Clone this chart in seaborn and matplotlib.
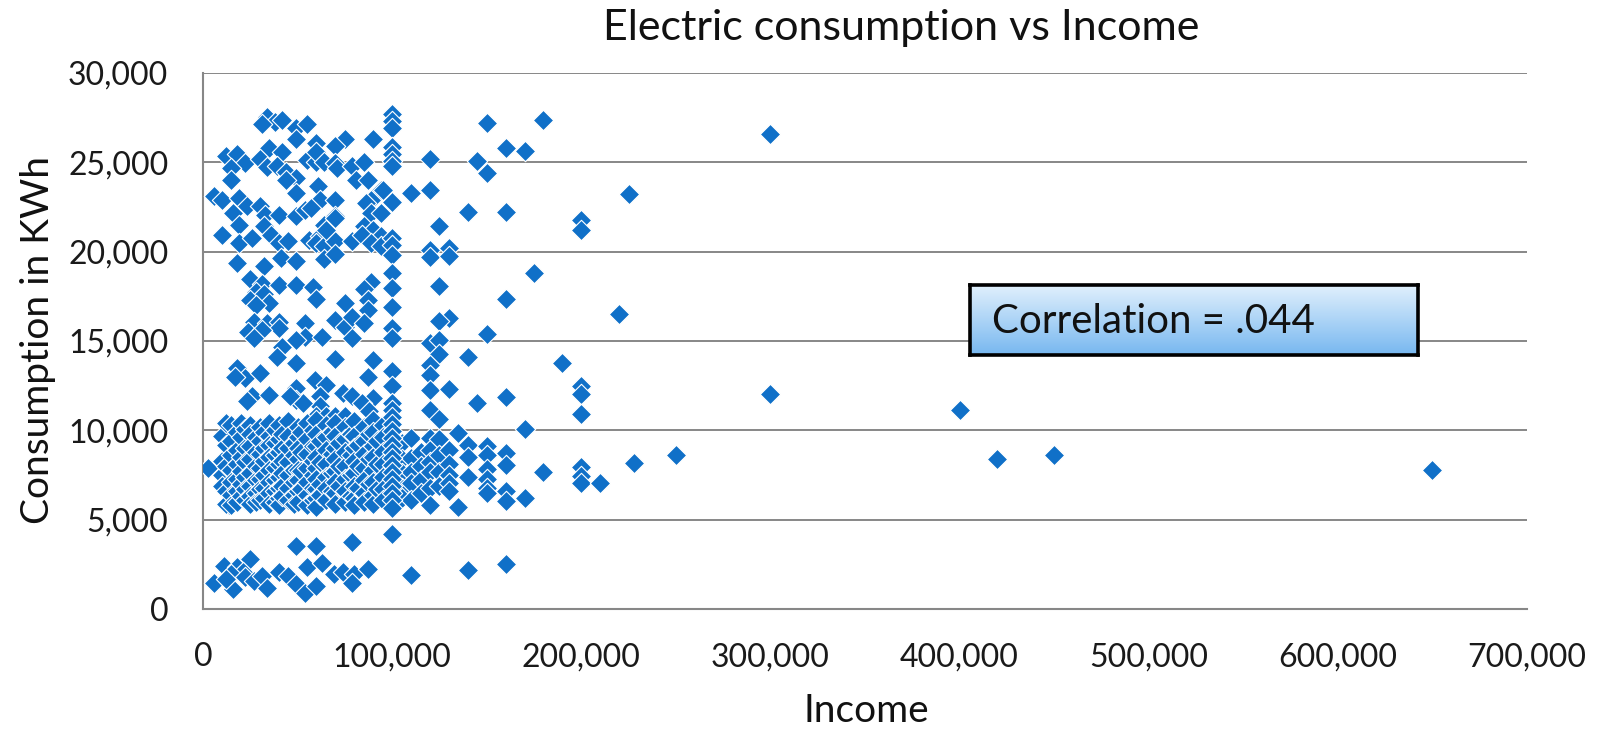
import matplotlib
matplotlib.use("Agg")
import matplotlib.pyplot as plt
import matplotlib.ticker as mticker
import numpy as np
import pandas as pd
import seaborn as sns

# ---------------- data (income in $, consumption in KWh) ----------------
# households above ~10,500 KWh with income below 100,000
upper_income = [34000, 38000, 42000, 31000, 49000, 55000, 49000, 90000, 75000, 60000,
                70000, 35000, 42000, 12000, 18000, 22000, 15000, 15000, 30000, 34000,
                39000, 44000, 49000, 55000, 60000, 60000, 64000, 70000, 71000, 79000,
                85000, 81000, 87000, 94000, 89000, 86000, 61000, 62000, 70000, 49000,
                44000, 6000, 10000, 19000, 23000, 16000, 19000, 30000, 33000, 40000,
                10000, 19000, 26000, 32000, 36000, 40000, 45000, 49000, 54000, 57000,
                56000, 62000, 60000, 64000, 70000, 70000, 64000, 65000, 70000, 89000,
                85000, 90000, 94000, 94000, 79000, 84000, 89000, 94000, 18000, 32000,
                41000, 49000, 64000, 70000,
                25000, 31000, 40000, 49000, 58000, 60000, 89000, 85000, 87000, 87000,
                28000, 32000, 35000, 25000, 28000, 75000, 27000, 34000, 40000, 40000,
                24000, 31000, 27000, 54000, 54000, 49000, 63000, 70000, 75000, 79000,
                85000, 79000, 42000, 39000, 49000, 70000, 90000, 18000, 22000, 30000,
                17000, 87000, 26000, 23000, 35000, 49000, 59000, 65000, 49000, 74000,
                79000, 90000, 84000, 62000, 62000, 53000, 46000,
                12000, 21000, 30000, 34000, 46000, 49000, 60000, 65000, 70000, 75000,
                79000, 88000, 90000]
upper_kwh = [27540, 27260, 27350, 27170, 26900, 27170, 26330, 26330, 26280, 26060,
             25900, 25780, 25590, 25350, 25460, 24980, 24670, 24020, 25170, 24760,
             24800, 24480, 24110, 25130, 25040, 25590, 25040, 24940, 24670, 24800,
             25040, 24020, 24020, 23460, 22900, 22720, 23650, 22900, 22900, 23280,
             24020, 23100, 22900, 23000, 22540, 22170, 21520, 22540, 22070, 22070,
             20960, 20500, 20780, 21430, 20960, 20500, 20590, 21980, 22350, 22440,
             20680, 20870, 20500, 20310, 20590, 21980, 21520, 21240, 21890, 22170,
             21430, 21240, 22170, 20870, 20590, 20960, 20500, 20310, 19390, 19200,
             19670, 19480, 19570, 19850,
             18480, 18200, 18110, 18110, 18020, 17370, 18300, 17930, 17280, 16720,
             17740, 17650, 17130, 17280, 17000, 17130, 16070, 15980, 16070, 15700,
             15520, 15610, 15150, 15980, 15240, 15060, 15240, 16170, 15800, 16350,
             15980, 15150, 14690, 14130, 13760, 13980, 13940, 13480, 12930, 13200,
             12980, 13000, 11910, 11630, 12000, 12370, 12830, 12560, 11720, 12090,
             11910, 11810, 11540, 11910, 11350, 11540, 11910,
             10430, 10340, 10150, 10060, 10240, 10060, 10800, 10800, 10800, 10800,
             10430, 11070, 10340]

# dense band between roughly 5,700 and 10,600 KWh
band_income = ([2500, 14000]
               + [10000] * 4 + [12000] * 5 + [15000] * 7 + [18000] * 6 + [20000] * 6
               + [22000] * 6 + [25000] * 8 + [28000] * 6 + [30000] * 7 + [32000] * 6
               + [35000] * 8 + [38000] * 7 + [40000] * 8 + [42000] * 6 + [45000] * 7
               + [48000] * 6 + [50000] * 8 + [52000] * 4 + [55000] * 7 + [58000] * 6
               + [60000] * 9 + [62000] * 4 + [65000] * 7 + [68000] * 4 + [70000] * 8
               + [72000] * 3 + [75000] * 7 + [78000] * 4 + [80000] * 8 + [82000] * 3
               + [85000] * 7 + [88000] * 3 + [90000] * 8 + [92000] * 3 + [95000] * 7
               + [105000] * 5 + [110000] * 5 + [115000] * 4 + [120000] * 6
               + [125000] * 4 + [130000] * 5 + [135000] * 2 + [140000] * 3
               + [150000] * 6 + [160000] * 4 + [170000] * 2 + [180000])
band_kwh = [7880, 5810,
            9700, 8300, 7500, 6900,
            10400, 9200, 8000, 6600, 5900,
            10300, 9400, 8600, 7800, 7100, 6400, 5800,
            9900, 8900, 8100, 7300, 6600, 6000,
            10400, 9600, 8500, 7700, 7000, 6300,
            10100, 9000, 8200, 7400, 6700, 6100,
            10300, 9800, 9100, 8400, 7600, 6900, 6300, 5900,
            9600, 8800, 8000, 7200, 6500, 6000,
            10200, 9400, 8700, 7900, 7300, 6700, 6100,
            9900, 9000, 8300, 7500, 6800, 6200,
            10400, 9700, 9200, 8500, 7800, 7100, 6500, 5900,
            10000, 9300, 8600, 7900, 7200, 6600, 6000,
            10300, 9500, 8800, 8100, 7400, 6800, 6200, 5800,
            9800, 9000, 8300, 7600, 6900, 6300,
            10500, 9700, 9000, 8200, 7500, 6800, 6100,
            9300, 8600, 7800, 7100, 6400, 5900,
            10200, 9600, 9000, 8400, 7800, 7200, 6600, 6000,
            9900, 8800, 7700, 6700,
            10400, 9500, 8700, 7900, 7100, 6400, 5800,
            10000, 9100, 8300, 7500, 6800, 6100,
            10600, 9800, 9100, 8500, 7900, 7300, 6700, 6200, 5700,
            9400, 8200, 7000, 6400,
            10300, 9600, 8900, 8100, 7400, 6800, 6100,
            9900, 8700, 7600, 6600,
            10400, 9700, 9000, 8400, 7700, 7100, 6500, 5900,
            9300, 8000, 6900,
            10200, 9500, 8800, 8000, 7300, 6600, 6000,
            9800, 8600, 7500, 6300,
            10500, 9700, 9000, 8300, 7600, 6900, 6200, 5800,
            9200, 8000, 6800,
            10200, 9400, 8700, 7900, 7200, 6500, 6000,
            9800, 8400, 7000,
            10600, 9900, 9100, 8500, 7800, 7100, 6400, 5900,
            9400, 8100, 6700,
            10300, 9600, 8800, 8100, 7400, 6700, 6100,
            9300, 8400, 7600, 6800, 6200,
            9580, 8430, 7660, 7080, 6120,
            8800, 8000, 7200, 6500,
            9580, 8900, 8240, 7660, 6790, 5830,
            9490, 8620, 7660, 6900,
            8910, 8140, 7500, 7080, 6600,
            9870, 5730,
            9200, 8520, 7370,
            9100, 8620, 7850, 7270, 6790, 6500,
            8720, 8040, 6600, 6020,
            10070, 6210,
            7660]

# low-consumption group
low_income = [49000, 60000, 79000, 55000, 63000, 11000, 18000, 25000, 21000, 15000,
              6000, 16000, 12000, 22000, 27000, 31000, 34000, 40000, 45000, 49000,
              54000, 60000, 69000, 74000, 80000, 79000, 87000, 100000, 110000, 140000,
              160000]
low_kwh = [3550, 3550, 3740, 2330, 2560, 2420, 2330, 2800, 2050, 1950,
           1480, 1110, 1670, 1770, 1580, 1860, 1200, 2050, 1860, 1390,
           920, 1300, 1950, 2050, 1950, 1480, 2240, 4190, 1920, 2210,
           2500]

# households reporting exactly 100,000 income
col100_kwh = [27690, 27300, 26920, 25860, 25470, 25090, 24800, 22780, 20760, 20370,
              19790, 18830, 17960, 16900, 15750, 15170, 13340, 12470, 11510, 11120,
              10740, 10350, 9970, 9580, 9200, 8810, 8430, 8040, 7660, 7270,
              6890, 6500, 6120, 5640]

# sparser incomes from 110,000 up
high_income = [150000, 180000, 160000, 170000, 120000, 145000, 150000, 95000, 110000, 120000,
               140000, 160000, 225000, 125000, 200000, 200000, 120000, 120000, 130000, 130000,
               175000, 125000, 160000, 220000, 130000, 125000, 150000, 120000, 125000, 125000,
               140000, 190000, 120000, 120000, 120000, 130000, 200000, 200000, 200000, 160000,
               145000, 120000, 125000, 200000, 200000, 200000, 210000, 228000, 250000, 300000,
               300000, 400000, 420000, 450000, 650000]
high_kwh = [27200, 27360, 25820, 25610, 25180, 25050, 24410, 23450, 23260, 23450,
            22240, 22240, 23200, 21430, 21760, 21240, 20120, 19700, 20180, 19750,
            18830, 18060, 17330, 16500, 16290, 16130, 15400, 14880, 15070, 14300,
            14110, 13750, 13670, 13090, 12280, 12320, 12500, 12050, 10930, 11860,
            11510, 11120, 10640, 7950, 7470, 7080, 7040, 8150, 8640, 26600,
            12030, 11120, 8400, 8600, 7800]

correlation_label = "Correlation = .044"

# ---------------- assemble ----------------
income = upper_income + band_income + low_income + [100000] * len(col100_kwh) + high_income
kwh = upper_kwh + band_kwh + low_kwh + col100_kwh + high_kwh
df = pd.DataFrame({"Income": income, "Consumption": kwh})

sns.set_theme(style="white")
plt.rcParams["font.family"] = ["Lato", "DejaVu Sans"]

W, H = 1604, 742
fig = plt.figure(figsize=(W / 100, H / 100), dpi=100)
fig.patch.set_facecolor("white")

left, right, top, bottom = 203, 1527, 73, 609
ax = fig.add_axes([left / W, 1 - bottom / H, (right - left) / W, (bottom - top) / H])
ax.set_facecolor("white")

sns.scatterplot(data=df, x="Income", y="Consumption", marker="D", s=108,
                color="#1070C8", edgecolor="white", linewidth=0.8, ax=ax, zorder=3)

ax.set_xlim(0, 700000)
ax.set_ylim(0, 30000)
ax.xaxis.set_major_locator(mticker.MultipleLocator(100000))
ax.yaxis.set_major_locator(mticker.MultipleLocator(5000))
fmt = mticker.FuncFormatter(lambda v, p: f"{int(v):,}")
ax.xaxis.set_major_formatter(fmt)
ax.yaxis.set_major_formatter(fmt)

grid_c = "#878787"
ax.yaxis.grid(True, color=grid_c, linewidth=1.4)
ax.xaxis.grid(False)
ax.set_axisbelow(True)
for s in ("top", "right"):
    ax.spines[s].set_visible(False)
for s in ("left", "bottom"):
    ax.spines[s].set_color(grid_c)
    ax.spines[s].set_linewidth(1.5)
ax.tick_params(axis="both", direction="out", length=8, width=1.4, color=grid_c,
               labelsize=23, labelcolor="#1a1a1a")
ax.tick_params(axis="y", pad=17)
ax.tick_params(axis="x", pad=16)
ax.set_xlabel("")
ax.set_ylabel("")

fig.text(901 / W, 1 - 28 / H, "Electric consumption vs Income", ha="center", va="center",
         fontsize=31, color="#111111")
fig.text(866 / W, 1 - 711 / H, "Income", ha="center", va="center", fontsize=28, color="#111111")
fig.text(38 / W, 1 - 340 / H, "Consumption in KWh", ha="center", va="center", rotation=90,
         fontsize=28, color="#111111")

# correlation call-out box with a vertical gradient
bx0, by0, bx1, by1 = 970, 285, 1418, 355
bax = fig.add_axes([bx0 / W, 1 - by1 / H, (bx1 - bx0) / W, (by1 - by0) / H])
top_c = np.array([0.88, 0.94, 0.99])
bot_c = np.array([0.47, 0.72, 0.94])
t = np.linspace(0, 1, 64)[:, None, None]
grad = top_c * (1 - t) + bot_c * t
grad = np.repeat(grad, 4, axis=1)
bax.imshow(grad, aspect="auto", extent=(0, 1, 0, 1), origin="upper")
bax.set_xlim(0, 1)
bax.set_ylim(0, 1)
bax.set_xticks([])
bax.set_yticks([])
for s in bax.spines.values():
    s.set_color("black")
    s.set_linewidth(2.6)
bax.text(22 / (bx1 - bx0), 0.48, correlation_label, ha="left", va="center",
         fontsize=29, color="#111111", transform=bax.transAxes)

fig.savefig("out.png", dpi=100, facecolor="white")
